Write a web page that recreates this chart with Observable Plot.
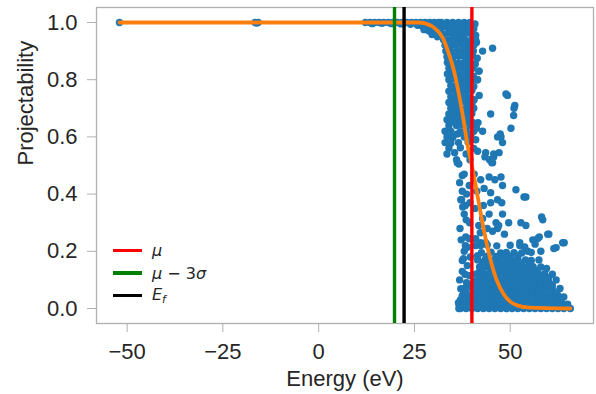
<!DOCTYPE html>
<html><head><meta charset="utf-8">
<script src="https://cdn.jsdelivr.net/npm/d3@7"></script>
<script src="https://cdn.jsdelivr.net/npm/@observablehq/plot@0.6"></script>
<style>
body{margin:0;background:#fff;}
#wrap{position:relative;width:596px;height:394px;font-family:"Liberation Sans",Arial,sans-serif;}
#legend{position:absolute;left:113px;top:239px;font-family:"DejaVu Sans",sans-serif;font-size:16px;color:#262626;}
#legend .row{display:flex;align-items:center;height:22.7px;}
#legend .bar{width:29px;height:3.5px;margin-right:10px;}
#legend i{font-style:italic;}
#legend sub{font-size:11px;vertical-align:-3px;}
</style></head><body><div id="wrap"><div id="legend"></div></div>
<script>
// x ticks / y ticks
const xTicks = [-50, -25, 0, 25, 50];
const yTicks = [0, 0.2, 0.4, 0.6, 0.8, 1.0];

// scatter: [energy (eV), projectability]
const plateau = [
[-52,1],[-16.6,1],[-15.8,1],[-16.2,0.998],
[12.2,1],[13.4,1],[14.6,1],[15.8,1],[17,1],[18.2,1],[19.4,1],[20.6,1],[21.8,1],[23,1],[24.2,1],[25.4,1],[26.6,1],[27.8,1],[29,1],[30.2,1],[31.4,1],
[14,0.996],[16.5,0.997],[19,0.996],[21.5,0.995],[24,0.994],[25.8,0.99],[27,0.988],[28.2,0.985],[29.4,0.983],[30.6,0.98],[31.8,0.978],
[27.5,0.975],[28.8,0.97],[30,0.966],[31.2,0.962],[32.2,0.955],[29.6,0.958],[31,0.95]
];
const core = [
[32,1],[33.5,1],[35,1],[36.5,1],[38,1],[39.5,1],[40.8,0.995],
[31.5,0.98],[33,0.985],[34.5,0.98],[36,0.982],[37.5,0.98],[39,0.985],[40.5,0.978],
[32.3,0.96],[33.6,0.962],[35,0.958],[36.5,0.96],[38,0.957],[39.5,0.962],[41,0.955],
[32.6,0.94],[34,0.938],[35.5,0.942],[37,0.94],[38.5,0.937],[40,0.94],[41.2,0.93],
[33,0.92],[34.5,0.918],[36,0.922],[37.5,0.92],[39,0.917],[40.5,0.92],
[33.2,0.9],[34.6,0.898],[36,0.9],[37.5,0.902],[39,0.898],[40.4,0.9],[42.8,0.9],
[33.5,0.88],[35,0.878],[36.5,0.882],[38,0.88],[39.5,0.878],[41.4,0.875],
[33.6,0.86],[35,0.862],[36.5,0.858],[38,0.86],[39.5,0.862],[40.9,0.855],
[34,0.84],[35.5,0.838],[37,0.842],[38.5,0.84],[40,0.838],[41.8,0.83],
[33.6,0.82],[35,0.82],[36.5,0.818],[38,0.822],[39.5,0.82],
[34,0.8],[35.5,0.802],[37,0.798],[38.5,0.8],[40,0.8],[41.4,0.8],
[34.5,0.78],[36,0.778],[37.5,0.782],[39,0.78],[40.5,0.776],
[34,0.76],[35.5,0.762],[37,0.758],[38.5,0.76],[40,0.762],
[34.5,0.74],[36,0.742],[37.5,0.738],[39,0.74],[41.9,0.745],
[34,0.72],[35.5,0.718],[37,0.722],[38.5,0.72],[40,0.718],
[34.5,0.7],[36,0.702],[37.5,0.698],[39,0.7],[40.5,0.7],
[34,0.68],[35.5,0.682],[37,0.678],[38.5,0.68],[40,0.682],
[33.5,0.66],[35,0.66],[36.5,0.662],[38,0.658],[39.5,0.66],
[34,0.64],[36,0.64],[37.5,0.642],[39.5,0.64],
[33,0.62],[34.5,0.62],[37,0.618],[38.5,0.622],[40.5,0.62],[42.8,0.62],
[33.5,0.6],[35,0.598],[38,0.6],[39.5,0.602],
[33,0.58],[34.5,0.578],[36.5,0.58],[39,0.582],
[34,0.56],[37,0.562],[40.5,0.56],
[33.5,0.54],[35.5,0.545],[38.5,0.54],
[36,0.52],[39.5,0.52],
[32.8,0.99],[34.2,0.97],[35.8,0.97],[37.2,0.968],[38.8,0.97],[40.2,0.965],
[33.3,0.93],[34.8,0.93],[36.3,0.93],[37.8,0.928],[39.3,0.93],
[34,0.89],[35.7,0.89],[37.2,0.89],[38.7,0.888],[40.1,0.888],
[34.3,0.85],[35.8,0.85],[37.3,0.85],[38.8,0.85],[40.3,0.846],
[34.3,0.81],[35.8,0.81],[37.3,0.81],[38.8,0.81],[40.4,0.812],
[34.8,0.77],[36.3,0.77],[37.8,0.77],[39.3,0.77],
[34.8,0.73],[36.3,0.73],[37.8,0.73],[39.3,0.73],[40.6,0.73],
[34.8,0.69],[36.3,0.69],[37.8,0.69],[39.3,0.69],
[34.3,0.65],[35.8,0.65],[37.3,0.65],[38.8,0.65],[40.3,0.65],
[34,0.61],[36.2,0.61],[37.8,0.61],[39.8,0.61]
];
const outliers = [
[45.4,0.91],[41,0.94],[41.5,0.8],[41.9,0.83],[48.9,0.75],[49.3,0.745],[51.2,0.71],[51,0.70],[50.9,0.675],[44.9,0.68],
[50.2,0.63],[47.6,0.6],[48,0.58],[46.7,0.6],[47.4,0.61],[47.1,0.545],[45.7,0.54],[41.6,0.65],[41.2,0.63],[41,0.59],
[41.5,0.55],[43.6,0.545],[43.4,0.53],[45.7,0.53],[44.6,0.52],[45.2,0.51],[36.2,0.51]
];
const middle = [
[36.6,0.505],[37.5,0.465],[38,0.47],[39.3,0.43],[37.5,0.41],[37.3,0.38],[38.3,0.36],[38,0.33],[38.5,0.31],[37.1,0.38],[37.6,0.355],
[38.4,0.25],[38.3,0.22],[38,0.2],[37.5,0.168],[37.5,0.13],[38.2,0.12],[39.3,0.244],[38.8,0.214],[37.8,0.174],[38.8,0.15],[39.3,0.115],
[45.4,0.51],[44.5,0.46],[42.3,0.45],[44.9,0.405],[46.7,0.38],[44.9,0.37],[48,0.33],[44.5,0.33],[46.3,0.30],[46.7,0.28],[45.4,0.27],
[42.8,0.315],[43.6,0.23],[42.3,0.23],[48,0.43],[47.6,0.46],[51.5,0.415],[54.1,0.39],[53.6,0.39],[40.6,0.47],[41.3,0.41],[40.8,0.35],[41.8,0.29],
[58.5,0.31],[58.2,0.32],[52.8,0.30],[54.1,0.29],[60.1,0.26],[64.1,0.23],[57.2,0.245],[62,0.213],[59.8,0.26],[63.7,0.23],[61.4,0.21],
[55.9,0.24],[57.6,0.25],[54.6,0.2],[47,0.29],[52.5,0.23],[53.8,0.215],[56.5,0.225],[58,0.2],
[41,0.244],[42.3,0.22],[41.5,0.185],[42.8,0.162],[41.9,0.127],[41,0.092],
[36.8,0.44],[38.6,0.4],[39.5,0.37],[36.9,0.28],[39.4,0.3],[37.2,0.24],[39.6,0.18],[36.8,0.1],[39.5,0.08],[38.6,0.09],
[43.2,0.42],[46,0.45],[43,0.36],[47.8,0.37],[44,0.28],[42.2,0.265],[48.5,0.26],[49.6,0.3]
];
const tail = [
[36.6,0.016],[38,0.005],[39.3,0.02],[37.1,0.069],[38.4,0.057],[37.5,0.04],[37.9,0.052],[36.6,0.0],[37,0.03],
[37,0],[38.5,0],[40,0],[41.5,0],[43,0],[44.5,0],[46,0],[47.5,0],[49,0],[50.5,0],[52,0],[53.5,0],[55,0],[56.5,0],[58,0],[59.5,0],[61,0],[62.5,0],[64,0],[65.7,0],
[36.5,0.02],[38,0.022],[39.5,0.018],[41,0.02],[42.5,0.022],[44,0.02],[45.5,0.018],[47,0.02],[48.5,0.022],[50,0.02],[51.5,0.018],[53,0.02],[54.5,0.022],[56,0.02],[57.5,0.018],[59,0.02],[60.5,0.022],[62,0.02],[63.5,0.018],[65,0.015],
[37.5,0.045],[39,0.047],[41.5,0.045],[43,0.043],[44.5,0.046],[46,0.045],[47.5,0.044],[49,0.047],[50.5,0.045],[52,0.043],[53.5,0.046],[55,0.045],[56.5,0.044],[58,0.047],[59.5,0.045],[61,0.043],[62.5,0.046],[64,0.04],
[38,0.07],[40,0.072],[41.5,0.07],[43,0.068],[44.5,0.071],[46,0.07],[47.5,0.069],[49,0.072],[50.5,0.07],[52,0.068],[53.5,0.071],[55,0.07],[56.5,0.069],[58,0.072],[59.5,0.07],[61,0.068],[63,0.07],
[40.5,0.095],[42,0.097],[43.5,0.094],[45,0.095],[46.5,0.096],[48,0.094],[49.5,0.097],[51,0.095],[52.5,0.094],[54,0.096],[55.5,0.095],[57,0.094],[58.5,0.097],[60,0.095],[62,0.1],
[41,0.12],[42.5,0.122],[44,0.119],[45.5,0.12],[47,0.121],[48.5,0.119],[50,0.122],[51.5,0.12],[53,0.118],[54.5,0.121],[56,0.12],[57.5,0.119],[59,0.122],[61,0.12],
[42,0.145],[44,0.147],[45.5,0.144],[47,0.145],[48.5,0.146],[50,0.144],[51.5,0.147],[53,0.145],[54.5,0.144],[56,0.146],[58,0.145],[59.5,0.14],
[41.5,0.17],[43.5,0.172],[45,0.169],[47,0.17],[49,0.171],[50.5,0.169],[52,0.172],[54,0.17],[55.5,0.168],[57.5,0.17],
[42.5,0.195],[45,0.197],[47.5,0.194],[49,0.196],[51,0.195],[53,0.194],[55.5,0.196],
[41,0.22],[44,0.222],[46.5,0.219],[50,0.221],[52.5,0.22],
[37.8,0.01],[39.2,0.008],[40.8,0.01],[42.2,0.009],[43.8,0.011],[45.2,0.01],[46.8,0.008],[48.2,0.01],[49.8,0.011],[51.2,0.009],[52.8,0.01],[54.2,0.008],[55.8,0.01],[57.2,0.011],[58.8,0.009],[60.2,0.01],[61.8,0.008],[63.2,0.01],[64.8,0.006],
[38.8,0.034],[40.3,0.033],[41.8,0.032],[43.7,0.034],[45.2,0.032],[46.7,0.033],[48.3,0.034],[49.7,0.032],[51.2,0.033],[52.8,0.034],[54.3,0.032],[55.7,0.033],[57.2,0.034],[58.8,0.032],[60.3,0.033],[61.7,0.034],[63.3,0.03],
[40.6,0.058],[42.2,0.057],[43.8,0.058],[45.3,0.056],[46.8,0.058],[48.2,0.057],[49.8,0.058],[51.3,0.056],[52.8,0.058],[54.2,0.057],[55.8,0.058],[57.3,0.056],[58.8,0.058],[60.3,0.057],[62,0.055],
[41.2,0.083],[42.8,0.082],[44.2,0.083],[45.7,0.082],[47.2,0.084],[48.8,0.082],[50.2,0.083],[51.8,0.082],[53.2,0.084],[54.8,0.082],[56.2,0.083],[57.8,0.082],[59.3,0.084],[61,0.082],
[41.8,0.108],[43.2,0.107],[44.8,0.108],[46.2,0.106],[47.8,0.108],[49.2,0.107],[50.8,0.108],[52.2,0.106],[53.8,0.108],[55.2,0.107],[56.8,0.108],[58.2,0.106],[60,0.108],
[42.8,0.133],[44.8,0.132],[46.2,0.133],[47.8,0.131],[49.2,0.133],[50.8,0.132],[52.2,0.133],[53.8,0.131],[55.2,0.133],[57,0.132],
[43,0.158],[44.5,0.157],[46,0.158],[48,0.157],[49.8,0.158],[51.3,0.157],[53,0.158],[55,0.156],
[44,0.183],[46.3,0.182],[48.2,0.183],[50,0.182],[52,0.184]
];

// fitted curve
const fitE = [-52, 26, 28, 30.5, 32.3, 34, 35.3, 36.6, 37.7, 38.8, 40, 41, 42, 43.2, 44.5, 46.3, 48.4, 50, 52, 55, 65.7];
const fitP = [1, 1, 0.996, 0.978, 0.949, 0.89, 0.832, 0.75, 0.669, 0.576, 0.5, 0.43, 0.355, 0.27, 0.19, 0.105, 0.048, 0.024, 0.01, 0.003, 0.0];

// vertical markers
const vNames = ["μ", "μ − 3σ", "E_f"];
const vEnergy = [40.0, 19.8, 22.3];
const vColors = ["#ff0000", "#008000", "#000000"];

const points = [...plateau, ...core, ...outliers, ...middle, ...tail].map(([e, p]) => ({e, p}));
const fit = fitE.map((e, i) => ({e, p: fitP[i]}));
const vlines = vEnergy.map((x, i) => ({x, name: vNames[i], color: vColors[i]}));

const chart = Plot.plot({
  width: 596, height: 394,
  marginLeft: 96, marginRight: 3, marginTop: 7, marginBottom: 71,
  x: {domain: [-58.0, 71.75]},
  y: {domain: [-0.0524, 1.0524]},
  style: {fontFamily: "Liberation Sans, Arial, sans-serif", fontSize: "22px", color: "#262626", background: "#fff"},
  marks: [
    Plot.frame({stroke: "#b0b0b0", strokeWidth: 1.3}),
    Plot.dot(points, {x: "e", y: "p", r: 3.7, fill: "#1f77b4"}),
    Plot.line(fit, {x: "e", y: "p", stroke: "#ff7f0e", strokeWidth: 3.8, curve: "monotone-x"}),
    Plot.ruleX(vlines, {x: "x", stroke: "color", strokeWidth: 3.4}),
    Plot.axisX({ticks: xTicks, tickFormat: d3.format("d"), tickSize: 9, tickPadding: 11, stroke: "#b0b0b0", label: null}),
    Plot.axisY({ticks: yTicks, tickFormat: d3.format(".1f"), tickSize: 9, tickPadding: 10, stroke: "#b0b0b0", label: null}),
    Plot.text(["Energy (eV)"], {frameAnchor: "bottom", dy: 62, fontSize: 22, fill: "#262626"}),
    Plot.text(["Projectability"], {frameAnchor: "left", dx: -71, rotate: -90, fontSize: 22, fill: "#262626"})
  ]
});
document.getElementById("wrap").prepend(chart);

const lg = document.getElementById("legend");
const labelsHtml = ["<i>μ</i>", "<i>μ</i> − 3<i>σ</i>", "<i>E</i><sub><i>f</i></sub>"];
vlines.forEach((v, i) => {
  const row = document.createElement("div");
  row.className = "row";
  row.innerHTML = `<span class="bar" style="background:${v.color}"></span><span>${labelsHtml[i]}</span>`;
  lg.appendChild(row);
});
</script></body></html>
